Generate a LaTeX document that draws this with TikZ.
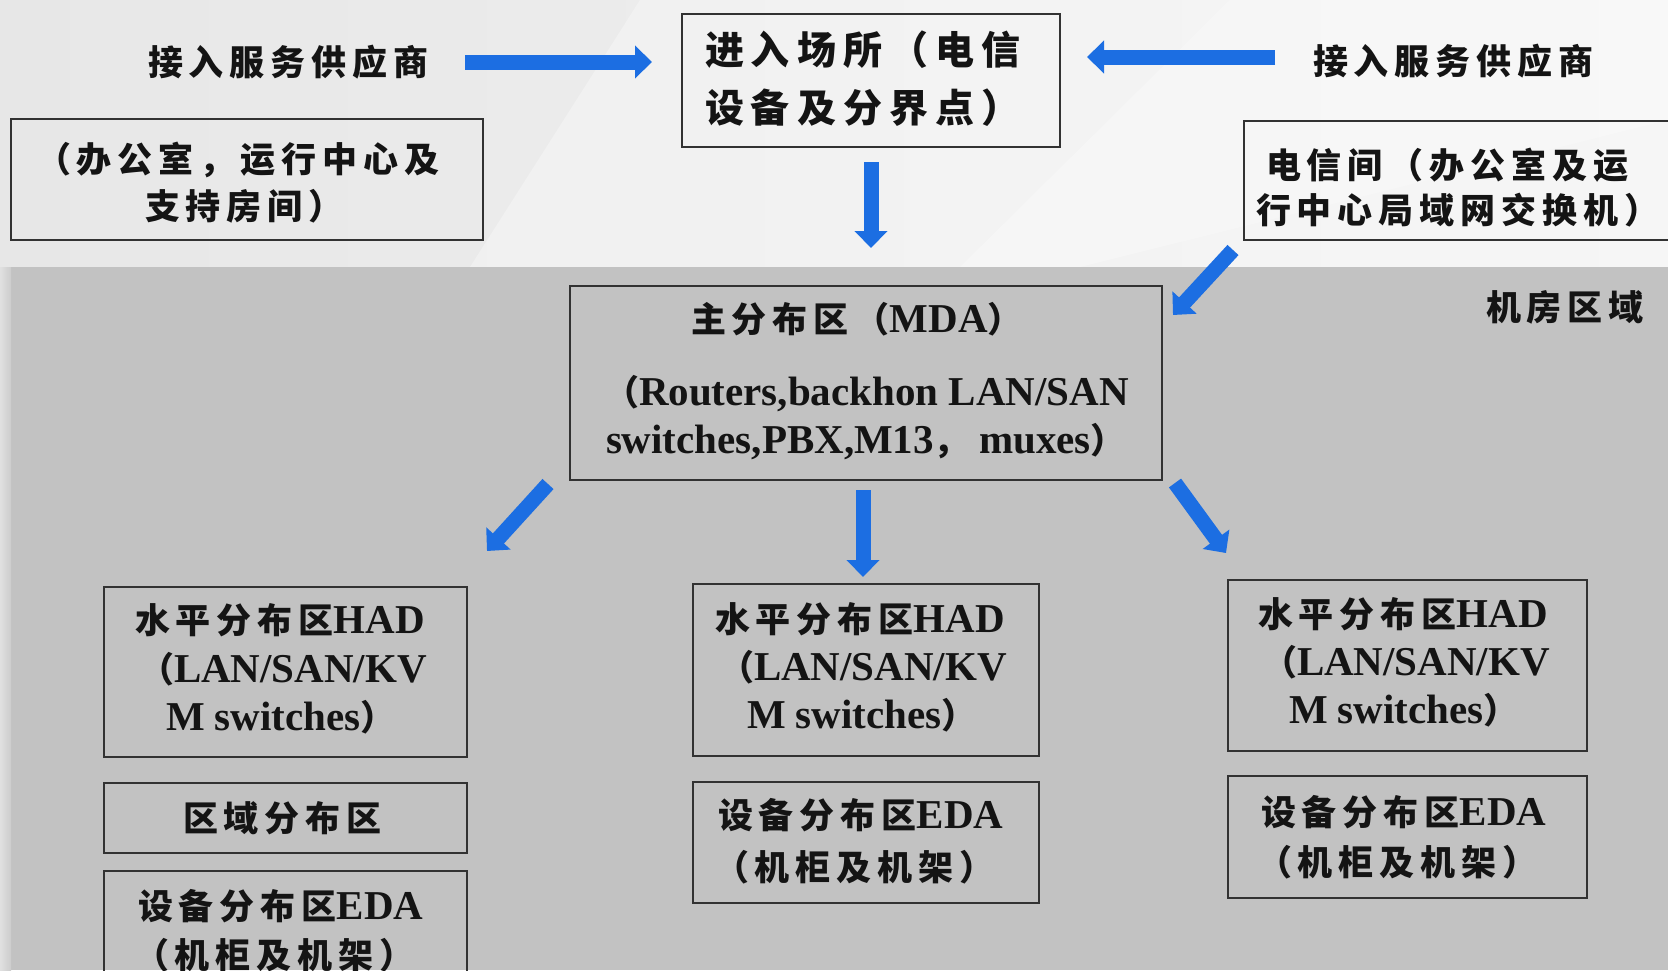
\documentclass[tikz,border=0pt]{standalone}
\usepackage{fontspec}
\usetikzlibrary{arrows.meta}
\newfontfamily\cjkfont{Noto Sans CJK SC}[LetterSpace=17]
\newfontfamily\latfont{Liberation Serif}
\newcommand\zh[1]{{\fontsize{35}{42}\cjkfont\bfseries #1}}
\newcommand\zhbig[1]{{\fontsize{39}{46}\cjkfont\bfseries\addfontfeature{LetterSpace=18}#1}}
\newcommand\en[1]{{\fontsize{41}{48}\latfont\bfseries #1}}
\definecolor{bggray}{RGB}{194,194,194}
\definecolor{topgray}{RGB}{231,231,231}
\definecolor{toplight}{RGB}{243,243,243}
\definecolor{boxline}{RGB}{50,50,50}
\definecolor{arrowblue}{RGB}{28,110,226}
\tikzset{
  box/.style={draw=boxline, line width=2.2pt, inner sep=0pt, anchor=north west},
  txt/.style={anchor=base west, inner sep=0pt, outer sep=0pt, text=black!92},
  bluearrow/.style={draw=arrowblue, line width=15pt, line cap=butt,
    -{Triangle[length=17pt,width=32pt]}},
}
\begin{document}
\begin{tikzpicture}[x=1pt,y=-1pt]
\useasboundingbox (0,0) rectangle (1668,970);
% backgrounds
\fill[left color=topgray, right color=toplight] (0,0) rectangle (1668,267);
\fill[white, opacity=0.3] (640,0) -- (1668,0) -- (1668,267) -- (470,267) -- cycle;
\fill[white, opacity=0.25] (1230,0) -- (1668,0) -- (1668,120) -- (1080,267) -- (960,267) -- cycle;
\fill[bggray] (11,267) rectangle (1668,970);
\fill[left color=black!12, right color=black!20] (0,267) rectangle (11,970);

% boxes
\node[box, minimum width=378, minimum height=133] (entry) at (681,13) {};
\node[box, minimum width=472, minimum height=121] (office) at (10,118) {};
\node[box, minimum width=440, minimum height=119] (telecom) at (1243,120) {};
\node[box, minimum width=592, minimum height=194] (mda) at (569,285) {};
\node[box, minimum width=363, minimum height=170] (hadL) at (103,586) {};
\node[box, minimum width=363, minimum height=70] (zoneL) at (103,782) {};
\node[box, minimum width=363, minimum height=120] (edaL) at (103,870) {};
\node[box, minimum width=346, minimum height=172] (hadM) at (692,583) {};
\node[box, minimum width=346, minimum height=121] (edaM) at (692,781) {};
\node[box, minimum width=359, minimum height=171] (hadR) at (1227,579) {};
\node[box, minimum width=359, minimum height=122] (edaR) at (1227,775) {};

% texts
\node[txt] (ispL) at (148,75) {\zh{接入服务供应商}};
\node[txt] (ispR) at (1313,74) {\zh{接入服务供应商}};
\node[txt] (entry1) at (705,64) {\zhbig{进入场所（电信}};
\node[txt] (entry2) at (705,122) {\zhbig{设备及分界点）}};
\node[txt] (office1) at (36,172) {\zh{（办公室，运行中心及}};
\node[txt] (office2) at (145,219) {\zh{支持房间）}};
\node[txt] (tel1) at (1266,178) {\zh{电信间（办公室及运}};
\node[txt] (tel2) at (1256,223) {\zh{行中心局域网交换机）}};
\node[txt] (room) at (1486,320) {\zh{机房区域}};
\node[txt] (mda1) at (691,332) {\zh{主分布区（}\en{MDA}\zh{）}};
\node[txt] (mda2) at (604,405) {\zh{（}\en{Routers,backhon LAN/SAN}};
\node[txt] (mda3) at (606,453) {\en{switches,PBX,M13}\zh{，}\en{ muxes}\zh{）}};

\node[txt] (hadL1) at (135,633) {\zh{水平分布区}\en{HAD}};
\node[txt] (hadL2) at (139,682) {\zh{（}\en{LAN/SAN/KV}};
\node[txt] (hadL3) at (166,730) {\en{M switches}\zh{）}};
\node[txt] (zone1) at (183,831) {\zh{区域分布区}};
\node[txt] (edaL1) at (138,919) {\zh{设备分布区}\en{EDA}};
\node[txt] (edaL2) at (134,968) {\zh{（机柜及机架）}};

\node[txt] (hadM1) at (715,632) {\zh{水平分布区}\en{HAD}};
\node[txt] (hadM2) at (719,680) {\zh{（}\en{LAN/SAN/KV}};
\node[txt] (hadM3) at (747,728) {\en{M switches}\zh{）}};
\node[txt] (edaM1) at (718,828) {\zh{设备分布区}\en{EDA}};
\node[txt] (edaM2) at (714,880) {\zh{（机柜及机架）}};

\node[txt] (hadR1) at (1258,627) {\zh{水平分布区}\en{HAD}};
\node[txt] (hadR2) at (1262,675) {\zh{（}\en{LAN/SAN/KV}};
\node[txt] (hadR3) at (1289,723) {\en{M switches}\zh{）}};
\node[txt] (edaR1) at (1261,825) {\zh{设备分布区}\en{EDA}};
\node[txt] (edaR2) at (1257,875) {\zh{（机柜及机架）}};

% arrow end points
\coordinate (a1s) at (465,62);   \coordinate (a1e) at (652,62);
\coordinate (a2s) at (1275,57);  \coordinate (a2e) at (1087,57);
\coordinate (a3s) at (871,162);  \coordinate (a3e) at (871,248);
\coordinate (a4s) at (1233,250); \coordinate (a4e) at (1173,315);
\coordinate (a5s) at (548,484);  \coordinate (a5e) at (487,551);
\coordinate (a6s) at (863,490);  \coordinate (a6e) at (863,577);
\coordinate (a7s) at (1175,483); \coordinate (a7e) at (1226,553);

\draw[bluearrow] (a1s) -- (a1e);
\draw[bluearrow] (a2s) -- (a2e);
\draw[bluearrow] (a3s) -- (a3e);
\draw[bluearrow] (a4s) -- (a4e);
\draw[bluearrow] (a5s) -- (a5e);
\draw[bluearrow] (a6s) -- (a6e);
\draw[bluearrow] (a7s) -- (a7e);
\end{tikzpicture}
\end{document}
